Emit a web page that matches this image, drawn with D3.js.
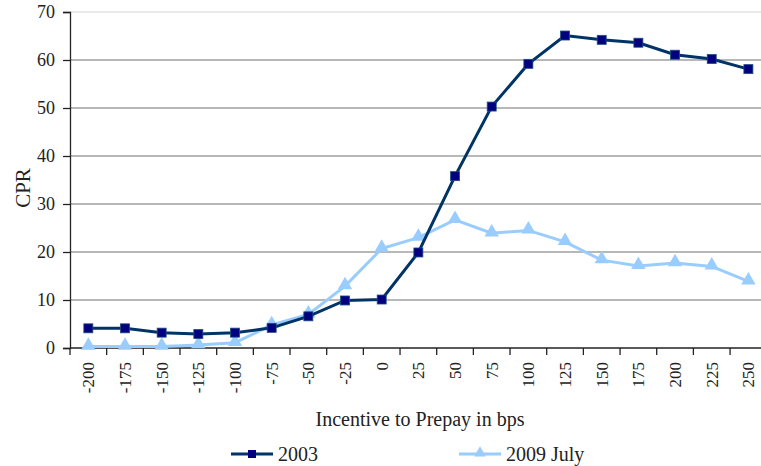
<!DOCTYPE html>
<html>
<head>
<meta charset="utf-8">
<script src="https://cdn.jsdelivr.net/npm/d3@7"></script>
<style>
  body { margin: 0; background: #fff; }
</style>
</head>
<body>
<svg id="chart" width="761" height="466" font-family="Liberation Serif"></svg>
<script>
// data
const incentive = [-200, -175, -150, -125, -100, -75, -50, -25, 0, 25, 50, 75, 100, 125, 150, 175, 200, 225, 250];
const cpr2003 = [4.1, 4.1, 3.2, 2.9, 3.2, 4.2, 6.6, 9.9, 10.1, 19.9, 35.8, 50.3, 59.2, 65.1, 64.2, 63.6, 61.1, 60.2, 58.1];
const cpr2009 = [0.3, 0.3, 0.3, 0.6, 1.1, 4.8, 7.0, 12.9, 20.7, 23.0, 26.7, 23.9, 24.5, 22.1, 18.3, 17.1, 17.7, 17.0, 13.9];
const yTicks = [0, 10, 20, 30, 40, 50, 60, 70];

const font = 'Liberation Serif';
const margin = {top: 12, left: 70, bottom: 118};
const width = 761, height = 466;
const bandW = 36.67;
const plotR = margin.left + bandW * incentive.length;
const plotB = height - margin.bottom;

const svg = d3.select('#chart');

let x = d3.scaleBand()
    .domain(incentive)
    .range([margin.left, plotR])
    .padding(0);

let y = d3.scaleLinear()
    .domain([0, 70])
    .range([plotB, margin.top]);

// grid
svg.append('g')
    .selectAll('line')
    .data(yTicks.slice(1))
    .join('line')
    .attr('x1', margin.left)
    .attr('x2', plotR)
    .attr('y1', d => y(d))
    .attr('y2', d => y(d))
    .attr('stroke', d => d == 70 ? '#e2e2e2' : '#a0a0a0')
    .attr('stroke-width', 1.3);

// y axis
let yAxis = svg.append('g')
    .attr('transform', `translate(${margin.left},0)`)
    .call(d3.axisLeft(y).tickValues(yTicks).tickSize(7).tickPadding(8));
yAxis.attr('font-family', font);
yAxis.select('.domain').attr('stroke', '#222').attr('stroke-width', 1.3);
yAxis.selectAll('.tick line').attr('stroke', '#222').attr('stroke-width', 1.3);
yAxis.selectAll('text').attr('font-size', 18).attr('font-family', font).attr('fill', '#222');

// x axis, ticks on band edges
svg.append('line')
    .attr('x1', margin.left).attr('x2', plotR)
    .attr('y1', plotB).attr('y2', plotB)
    .attr('stroke', '#222').attr('stroke-width', 1.5);
svg.append('g')
    .selectAll('line')
    .data(incentive)
    .join('line')
    .attr('x1', d => x(d)).attr('x2', d => x(d))
    .attr('y1', plotB).attr('y2', plotB + 7)
    .attr('stroke', '#222').attr('stroke-width', 1.3);
svg.append('g')
    .selectAll('text')
    .data(incentive)
    .join('text')
    .attr('transform', d => `translate(${x(d) + x.bandwidth() / 2 + 6},${plotB + 14}) rotate(-90)`)
    .attr('text-anchor', 'end')
    .attr('font-family', font)
    .attr('font-size', 17)
    .attr('fill', '#222')
    .text(d => d);

// axis titles
svg.append('text')
    .attr('transform', `translate(30,${(margin.top + plotB) / 2 + 8}) rotate(-90)`)
    .attr('text-anchor', 'middle')
    .attr('font-family', font)
    .attr('font-size', 21)
    .attr('fill', '#222')
    .text('CPR');
svg.append('text')
    .attr('x', 420).attr('y', 426)
    .attr('text-anchor', 'middle')
    .attr('font-family', font)
    .attr('font-size', 20)
    .attr('fill', '#222')
    .text('Incentive to Prepay in bps');

const cx = d => x(d) + x.bandwidth() / 2;
const line = d3.line().x(d => cx(d[0])).y(d => y(d[1]));

// 2009 July
const s2009 = incentive.map((d, i) => [d, cpr2009[i]]);
svg.append('path')
    .datum(s2009)
    .attr('d', line)
    .attr('fill', 'none')
    .attr('stroke', '#99ccff')
    .attr('stroke-width', 3);
const tri = d3.symbol().type(d3.symbolTriangle).size(90);
svg.append('g')
    .selectAll('path')
    .data(s2009)
    .join('path')
    .attr('d', tri)
    .attr('transform', d => `translate(${cx(d[0])},${y(d[1]) - 1})`)
    .attr('fill', '#99ccff');

// 2003
const s2003 = incentive.map((d, i) => [d, cpr2003[i]]);
svg.append('path')
    .datum(s2003)
    .attr('d', line)
    .attr('fill', 'none')
    .attr('stroke', '#003366')
    .attr('stroke-width', 3);
svg.append('g')
    .selectAll('rect')
    .data(s2003)
    .join('rect')
    .attr('x', d => cx(d[0]) - 4.5)
    .attr('y', d => y(d[1]) - 4.5)
    .attr('width', 9).attr('height', 9)
    .attr('fill', '#000080')
    .attr('stroke', '#1f4f7f')
    .attr('stroke-width', 0.8);

// legend
const legend = [
    {name: '2003', color: '#003366', mark: '#000080', shape: 'square', x: 231},
    {name: '2009 July', color: '#99ccff', mark: '#99ccff', shape: 'triangle', x: 459}
];
const lg = svg.append('g').selectAll('g').data(legend).join('g')
    .attr('transform', d => `translate(${d.x},454)`);
lg.append('line')
    .attr('x1', 0).attr('x2', 42)
    .attr('stroke', d => d.color).attr('stroke-width', 3);
lg.filter(d => d.shape == 'square').append('rect')
    .attr('x', 17).attr('y', -4).attr('width', 8).attr('height', 8)
    .attr('fill', d => d.mark);
lg.filter(d => d.shape == 'triangle').append('path')
    .attr('d', d3.symbol().type(d3.symbolTriangle).size(60))
    .attr('transform', 'translate(21,-1)')
    .attr('fill', d => d.mark);
lg.append('text')
    .attr('x', 47).attr('y', 7)
    .attr('font-family', font)
    .attr('font-size', 20)
    .attr('fill', '#222')
    .text(d => d.name);
</script>
</body>
</html>
